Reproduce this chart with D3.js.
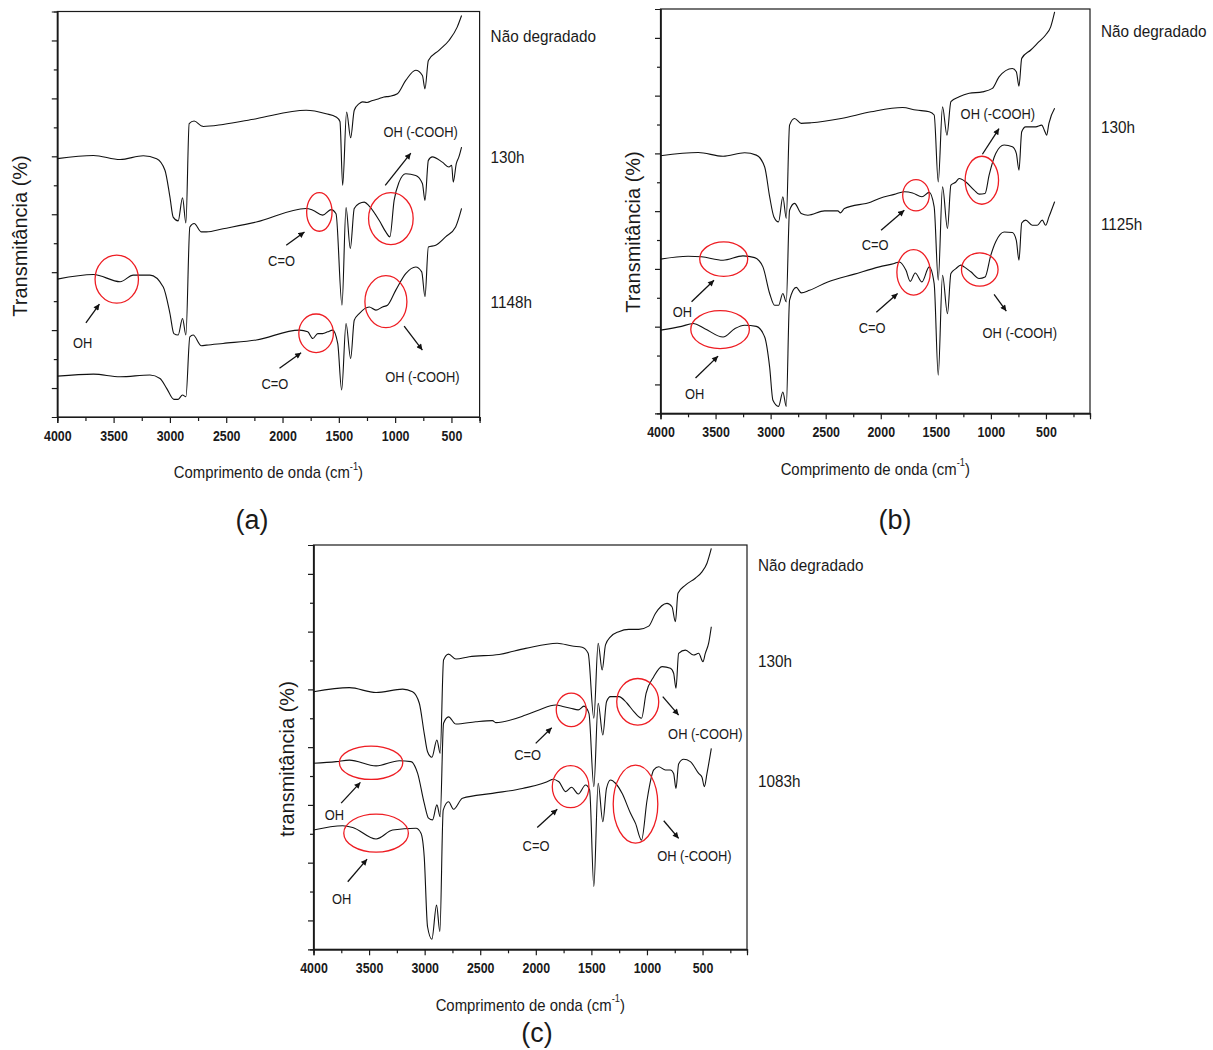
<!DOCTYPE html>
<html><head><meta charset="utf-8">
<script src="https://cdn.jsdelivr.net/npm/d3@7/dist/d3.min.js"></script>
<style>body{margin:0;background:#fff}svg{display:block;font-family:"Liberation Sans",Arial,sans-serif}</style>
</head><body><svg id="chart" width="1213" height="1050"></svg>
<script>
// ---------------- DATA ----------------
const xTickLabels = [4000, 3500, 3000, 2500, 2000, 1500, 1000, 500];
const seriesNamesA = ["Não degradado", "130h", "1148h"];
const seriesNamesB = ["Não degradado", "130h", "1125h"];
const seriesNamesC = ["Não degradado", "130h", "1083h"];
const yTitles = ["Transmitância (%)", "Transmitância (%)", "transmitância (%)"];
const xTitleText = "Comprimento de onda (cm";
const panelLetters = ["(a)", "(b)", "(c)"];

// spectra: [wavenumber cm-1, transmittance (offset, arbitrary units)]
const specA0 = [[4000,8.92],[3679,9.03],[3442,8.89],[3236,9.02],[3118,8.92],[3044,8.52],[3000,7.6],[2971,6.9],[2927,6.77],[2888,7.57],[2858,6.7],[2829,10.13],[2785,10.22],[2720,10.05],[2705,10.03],[2528,10.1],[2233,10.3],[1790,10.59],[1613,10.47],[1525,10.36],[1490,10.2],[1466,8.0],[1431,10.53],[1395,9.64],[1363,10.59],[1319,10.82],[1290,10.88],[1250,10.86],[1200,10.93],[1150,10.98],[1100,11.05],[1053,11.07],[980,11.16],[906,11.62],[817,11.97],[758,11.79],[735,11.33],[705,12.31],[611,12.66],[522,13.0],[449,13.46],[410,13.86]];
const specA1 = [[4000,4.76],[3679,4.92],[3442,4.67],[3325,4.9],[3177,4.9],[3059,4.49],[3000,3.58],[2965,2.88],[2927,2.83],[2888,3.4],[2858,2.83],[2823,6.56],[2785,6.68],[2720,6.39],[2676,6.39],[2528,6.5],[2233,6.73],[1790,7.2],[1731,7.14],[1643,6.97],[1569,7.16],[1525,7.02],[1472,3.86],[1436,7.23],[1398,5.82],[1363,7.2],[1319,7.37],[1274,7.42],[1230,7.28],[1142,6.79],[1083,6.39],[1047,6.22],[1009,7.48],[965,8.11],[906,8.4],[817,8.34],[758,8.06],[735,7.48],[705,8.86],[670,8.98],[581,8.8],[522,8.63],[498,8.69],[484,8.11],[457,8.75],[434,8.98],[410,9.32]];
const specA2 = [[4000,1.41],[3679,1.48],[3442,1.39],[3177,1.45],[3088,1.33],[3029,0.99],[2965,0.61],[2927,0.61],[2888,0.76],[2858,0.7],[2823,2.77],[2794,2.83],[2720,2.46],[2676,2.48],[2528,2.54],[2233,2.66],[1850,3.0],[1776,2.94],[1731,2.71],[1687,2.88],[1643,2.88],[1599,2.94],[1555,3.0],[1510,2.54],[1475,0.93],[1436,3.23],[1395,2.02],[1363,3.34],[1319,3.57],[1230,3.8],[1171,3.69],[1112,3.8],[1068,3.86],[994,4.38],[906,4.95],[817,5.18],[764,5.01],[735,4.15],[705,5.87],[640,5.93],[552,6.22],[463,6.56],[410,7.2]];

const specB0 = [[4000,8.92],[3658,9.03],[3432,8.9],[3236,9.02],[3130,8.94],[3054,8.53],[3009,7.5],[2970,6.8],[2928,6.63],[2889,7.5],[2858,6.75],[2828,9.98],[2783,10.21],[2722,10.04],[2631,10.06],[2360,10.21],[2088,10.44],[1802,10.59],[1680,10.5],[1560,10.44],[1515,10.33],[1478,8.01],[1439,10.61],[1399,9.63],[1363,10.79],[1288,10.96],[1197,11.08],[1077,11.13],[986,11.25],[926,11.65],[805,11.94],[769,11.83],[745,11.33],[720,12.29],[638,12.58],[563,12.87],[503,13.1],[457,13.38],[421,13.9]];
const specB1 = [[4000,5.34],[3749,5.44],[3628,5.42],[3432,5.3],[3251,5.45],[3145,5.39],[3070,5.07],[3009,4.15],[2964,3.74],[2928,3.74],[2889,4.15],[2858,3.86],[2828,7.03],[2783,7.27],[2722,6.92],[2662,6.86],[2511,7.01],[2390,7.01],[2366,6.94],[2330,7.09],[2088,7.32],[2013,7.44],[1877,7.58],[1786,7.67],[1711,7.63],[1626,7.5],[1560,7.65],[1515,7.15],[1478,4.61],[1439,7.84],[1394,6.4],[1363,7.9],[1318,8.01],[1288,8.13],[1227,8.01],[1152,7.73],[1107,7.59],[1053,7.61],[1016,8.25],[956,9.0],[880,9.29],[805,9.23],[769,9.0],[745,8.42],[720,9.75],[684,9.92],[593,9.92],[539,9.98],[509,9.75],[494,9.63],[473,10.04],[421,10.56]];
const specB2 = [[4000,2.88],[3809,3.01],[3704,3.11],[3598,2.93],[3432,2.64],[3326,2.93],[3236,3.05],[3130,3.01],[3054,2.64],[3009,1.6],[2979,0.45],[2928,0.24],[2889,0.74],[2858,0.24],[2828,3.92],[2767,4.36],[2722,4.17],[2647,4.26],[2481,4.55],[2239,4.82],[2013,5.07],[1877,5.19],[1832,5.24],[1771,4.95],[1732,4.57],[1687,4.86],[1626,4.55],[1560,5.07],[1515,4.49],[1478,1.32],[1439,4.78],[1394,3.45],[1363,4.84],[1318,5.01],[1273,5.13],[1243,5.07],[1182,4.9],[1107,4.67],[1053,4.72],[1001,5.47],[956,5.94],[880,6.28],[805,6.26],[769,5.99],[745,5.3],[720,6.59],[684,6.69],[624,6.51],[579,6.51],[533,6.69],[503,6.51],[473,6.8],[421,7.33]];

const specC0 = [[4000,8.92],[3677,9.06],[3437,8.89],[3198,9.01],[3109,8.92],[3048,8.52],[3004,7.48],[2974,6.84],[2935,6.65],[2890,7.25],[2860,6.79],[2830,10.02],[2785,10.22],[2719,10.05],[2600,10.13],[2330,10.21],[2091,10.42],[1807,10.6],[1672,10.5],[1583,10.46],[1529,10.25],[1478,8.0],[1439,10.6],[1403,9.67],[1373,10.54],[1328,10.82],[1253,11.0],[1163,11.08],[1074,11.08],[984,11.19],[924,11.63],[820,11.98],[775,11.86],[744,11.34],[721,12.33],[654,12.61],[565,12.85],[505,13.07],[460,13.37],[421,13.88]];
const specC1 = [[4000,6.44],[3796,6.5],[3677,6.55],[3437,6.35],[3228,6.53],[3123,6.5],[3063,6.09],[3004,5.06],[2965,4.54],[2929,4.48],[2890,5.0],[2860,4.59],[2830,7.83],[2785,8.05],[2719,7.8],[2540,7.88],[2390,7.92],[2360,7.85],[2091,8.11],[1971,8.29],[1821,8.46],[1747,8.4],[1687,8.35],[1618,8.29],[1567,8.42],[1522,8.17],[1478,5.63],[1439,8.52],[1397,7.42],[1364,8.57],[1328,8.75],[1253,8.75],[1179,8.52],[1118,8.23],[1049,8.0],[1008,8.86],[939,9.44],[864,9.79],[789,9.73],[760,9.56],[739,9.04],[715,10.25],[654,10.36],[580,10.19],[535,10.25],[496,9.96],[475,10.25],[445,10.6],[421,11.17]];
const specC2 = [[4000,4.13],[3737,4.28],[3647,4.22],[3437,3.82],[3288,4.13],[3078,4.19],[3033,4.02],[3004,3.21],[2974,0.78],[2935,0.35],[2893,1.53],[2863,0.61],[2833,4.82],[2785,5.11],[2740,4.85],[2660,5.23],[2390,5.4],[2121,5.57],[1866,5.86],[1852,5.89],[1792,5.8],[1732,5.46],[1678,5.61],[1618,5.38],[1552,5.69],[1516,5.52],[1478,2.17],[1439,5.75],[1397,4.42],[1364,5.57],[1328,5.86],[1283,5.75],[1224,5.4],[1148,4.71],[1103,4.36],[1049,3.78],[999,5.17],[939,6.21],[894,6.32],[834,6.21],[789,6.21],[760,6.09],[739,5.57],[715,6.42],[670,6.58],[610,6.5],[535,6.09],[505,5.96],[484,5.63],[460,6.09],[421,6.96]];

// annotation anchors in data coordinates
const ellipsesA = [[1673,7.08],[1038,6.85],[3472,4.76],[1702,2.89],[1082,3.98]];
const arrowsA = [[1088,8.0,861,9.11],[1967,5.93,1805,6.39],[3746,3.25,3626,3.9],[2027,1.68,1835,2.22],[920,3.14,758,2.31]];
const notesA = [["OH (-COOH)",774,9.84],["C=O",2009,5.41],["OH",3774,2.56],["C=O",2068,1.16],["OH (-COOH)",758,1.39]];
const ellipsesB = [[3426,5.34],[3459,2.9],[1680,7.55],[1702,4.88],[1082,8.07],[1101,4.98]];
const arrowsB = [[3718,3.86,3514,4.61],[3682,1.22,3477,1.98],[1997,6.34,1786,7.03],[2040,3.5,1847,4.15],[1077,8.97,926,9.86],[971,4.12,860,3.54]];
const notesB = [["OH",3802,3.51],["OH",3691,0.68],["C=O",2051,5.85],["C=O",2078,2.97],["OH (-COOH)",937,10.36],["OH (-COOH)",738,2.8]];
const ellipsesC = [[3482,6.46],[3437,4.02],[1681,8.29],[1687,5.63],[1083,8.57],[1103,5.03]];
const arrowsC = [[3751,5.06,3578,5.78],[3692,2.34,3518,3.12],[2001,7.13,1857,7.67],[1987,4.22,1807,4.85],[858,8.75,715,8.11],[849,4.45,715,3.84]];
const notesC = [["OH",3811,4.65],["OH",3747,1.77],["C=O",2073,6.73],["C=O",1998,3.58],["OH (-COOH)",475,7.48],["OH (-COOH)",573,3.23]];
const seriesLabelLevelsA = [13.17, 8.97, 3.97];
const seriesLabelLevelsB = [13.25, 9.92, 6.57];
const seriesLabelLevelsC = [13.31, 9.98, 5.83];

// ---------------- LAYOUT ----------------
const ellipseSizesA = [[12.7,19.3],[22.3,26],[21.7,24],[17.3,19.3],[21,26]];
const ellipseSizesB = [[24,17.3],[29.3,19],[13.3,15.7],[16.7,22.7],[16.7,24],[18.3,16.7]];
const ellipseSizesC = [[31.7,16.7],[32.3,19],[15,16.7],[18.3,21],[21,23.3],[22.3,39]];

const panels = [
  {x0:57.3, x1:479.6, yb:417, yt:11.5, xEnd:250, ytX:20, ytY:236, letterX:252, letterY:520,
   specs:[specA0,specA1,specA2], names:seriesNamesA, levels:seriesLabelLevelsA,
   ell:ellipsesA, ellS:ellipseSizesA, arr:arrowsA, notes:notesA},
  {x0:660.5, x1:1090, yb:413.3, yt:9, xEnd:100, ytX:633, ytY:232, letterX:895, letterY:520,
   specs:[specB0,specB1,specB2], names:seriesNamesB, levels:seriesLabelLevelsB,
   ell:ellipsesB, ellS:ellipseSizesB, arr:arrowsB, notes:notesB},
  {x0:313.5, x1:747, yb:949.3, yt:545, xEnd:100, ytX:287, ytY:759, letterX:537, letterY:1033,
   specs:[specC0,specC1,specC2], names:seriesNamesC, levels:seriesLabelLevelsC,
   ell:ellipsesC, ellS:ellipseSizesC, arr:arrowsC, notes:notesC}
];

const svg = d3.select("#chart");
const defs = svg.append("defs");
defs.append("marker").attr("id","ah").attr("viewBox","0 0 10 10")
  .attr("refX",10).attr("refY",5).attr("markerWidth",7).attr("markerHeight",6)
  .attr("markerUnits","userSpaceOnUse").attr("orient","auto")
  .append("path").attr("d","M0,0 L10,5 L0,10 z").attr("fill","#111");

const INK = "#1a1a1a";
const RED = "#ee1d23";

function ctext(g, x, y, s, size, sx, anchor, weight) {
  return g.append("text")
    .attr("transform", `translate(${x},${y}) scale(${sx},1)`)
    .attr("text-anchor", anchor || "start")
    .attr("dominant-baseline", "central")
    .style("font-size", size + "px")
    .style("font-weight", weight || "normal")
    .attr("fill", INK)
    .text(s);
}

panels.forEach((p, i) => {
  const g = svg.append("g");
  const x = d3.scaleLinear().domain([4000, p.xEnd]).range([p.x0, p.x1]);
  const y = d3.scaleLinear().domain([0, 14]).range([p.yb, p.yt]);

  // frame
  g.append("rect").attr("x", p.x0).attr("y", p.yt).attr("width", p.x1 - p.x0).attr("height", p.yb - p.yt)
    .attr("fill", "none").attr("stroke", INK).attr("stroke-width", 1.2);

  // x axis
  const minorX = d3.range(3750, p.xEnd - 1, -500);
  const axMin = g.append("g").attr("transform", `translate(0,${p.yb})`)
    .call(d3.axisBottom(x).tickValues(minorX).tickSize(4).tickFormat(""));
  const axMaj = g.append("g").attr("transform", `translate(0,${p.yb})`)
    .call(d3.axisBottom(x).tickValues(xTickLabels).tickSize(6).tickPadding(7).tickFormat(d3.format("d")));
  [axMin, axMaj].forEach(a => {
    a.select(".domain").attr("stroke", INK).attr("stroke-width", 1.2);
    a.selectAll(".tick line").attr("stroke", INK).attr("stroke-width", 1.2);
  });
  axMaj.selectAll(".tick text").attr("fill", INK)
    .style("font-family", '"Liberation Sans", Arial, sans-serif')
    .style("font-size", "15.5px").style("font-weight", "bold")
    .attr("transform", "scale(0.8,1)").attr("dy", "0.72em");

  // y axis (no labels)
  const majY = [1,3,5,7,9,11,13], minY = [2,4,6,8,10,12];
  const ayMaj = g.append("g").attr("transform", `translate(${p.x0},0)`)
    .call(d3.axisLeft(y).tickValues(majY).tickSize(5.5).tickFormat(""));
  const ayMin = g.append("g").attr("transform", `translate(${p.x0},0)`)
    .call(d3.axisLeft(y).tickValues(minY).tickSize(3.5).tickFormat(""));
  [ayMaj, ayMin].forEach(a => {
    a.select(".domain").attr("stroke", INK).attr("stroke-width", 1.2);
    a.selectAll(".tick line").attr("stroke", INK).attr("stroke-width", 1.2);
  });

  // spectra
  const line = d3.line().x(d => x(d[0])).y(d => y(d[1])).curve(d3.curveMonotoneX);
  p.specs.forEach(s => {
    g.append("path").attr("d", line(s)).attr("fill", "none")
      .attr("stroke", "#111").attr("stroke-width", 1.1).attr("stroke-linejoin", "round");
  });

  // series labels
  p.names.forEach((n, k) => {
    ctext(g, p.x1 + 11, y(p.levels[k]), n, 17, 0.9, "start");
  });

  // ellipses
  p.ell.forEach((e, k) => {
    g.append("ellipse").attr("cx", x(e[0])).attr("cy", y(e[1]))
      .attr("rx", p.ellS[k][0]).attr("ry", p.ellS[k][1])
      .attr("fill", "none").attr("stroke", RED).attr("stroke-width", 1.3);
  });

  // arrows
  p.arr.forEach(a => {
    g.append("line").attr("x1", x(a[0])).attr("y1", y(a[1])).attr("x2", x(a[2])).attr("y2", y(a[3]))
      .attr("stroke", "#111").attr("stroke-width", 1.3).attr("marker-end", "url(#ah)");
  });

  // annotation labels
  p.notes.forEach(n => {
    ctext(g, x(n[1]), y(n[2]), n[0], 15, 0.86, "middle");
  });

  // x title
  const xt = g.append("text")
    .attr("transform", `translate(${(p.x0 + p.x1) / 2},${p.yb + 55}) scale(0.93,1)`)
    .attr("text-anchor", "middle").attr("dominant-baseline", "central")
    .style("font-size", "16px").attr("fill", INK);
  xt.append("tspan").text(xTitleText);
  xt.append("tspan").attr("dy", -6).style("font-size", "10px").text("-1");
  xt.append("tspan").attr("dy", 6).text(")");

  // y title
  g.append("text").attr("transform", `translate(${p.ytX},${p.ytY}) rotate(-90)`)
    .attr("text-anchor", "middle").attr("dominant-baseline", "central")
    .style("font-size", "20px").attr("fill", INK).text(yTitles[i]);

  // panel letter
  g.append("text").attr("x", p.letterX).attr("y", p.letterY)
    .attr("text-anchor", "middle").attr("dominant-baseline", "central")
    .style("font-size", "27px").attr("fill", INK).text(panelLetters[i]);
});
</script></body></html>
